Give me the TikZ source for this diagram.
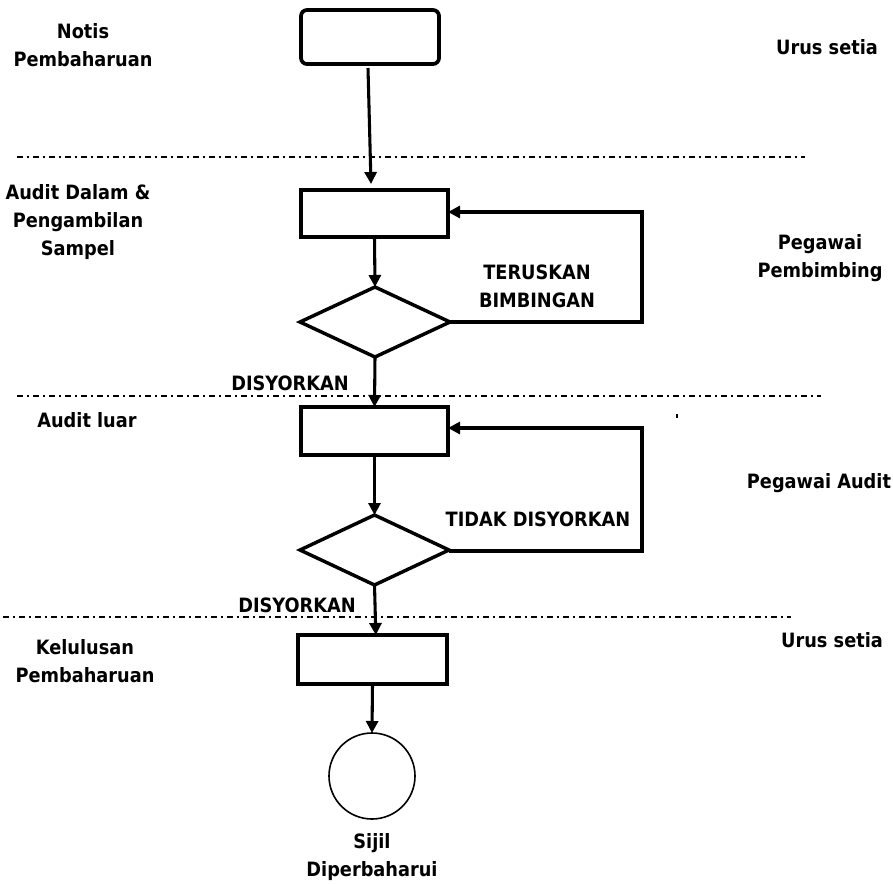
\documentclass[tikz,border=0pt]{standalone}
\usepackage{fontspec}
\setmainfont{DejaVu Sans}
\newfontfamily\labfont{DejaVu Sans Condensed}
\usetikzlibrary{shapes.geometric,arrows.meta}
\begin{document}
\begin{tikzpicture}[x=0.75pt,y=-0.75pt,
  procbox/.style={draw,line width=2.8pt,inner sep=0pt,outer sep=0pt},
  decision/.style={diamond,draw,line width=2.6pt,inner sep=0pt,outer sep=0pt},
  endcircle/.style={circle,draw,line width=1.2pt,inner sep=0pt,outer sep=0pt,minimum size=64.5pt},
  conn/.style={line width=2.3pt,-{Triangle[width=9pt,length=9pt]}},
  lane/.style={line width=1.2pt,dash pattern=on 4.5pt off 3pt on 1.5pt off 3pt},
  lab/.style={font=\labfont\bfseries\fontsize{14.8}{21}\selectfont,align=center,inner sep=0pt}]
\useasboundingbox (0,0) rectangle (893,883);

% lanes
\coordinate (l1a) at (17,157); \coordinate (l1b) at (805,157);
\coordinate (l2a) at (17,396); \coordinate (l2b) at (821,396);
\coordinate (l3a) at (3,617);  \coordinate (l3b) at (791,617);
\draw[lane] (l1a) -- (l1b);
\draw[lane] (l2a) -- (l2b);
\draw[lane] (l3a) -- (l3b);

% shapes
\node[procbox,rounded corners=4.5pt,minimum width=103.5pt,minimum height=40.5pt] (b1) at (370,37) {};
\node[procbox,minimum width=110.25pt,minimum height=35.25pt] (b2) at (374.5,213.5) {};
\node[decision,minimum width=112.5pt,minimum height=52.5pt] (d1) at (375,322) {};
\node[procbox,minimum width=110.25pt,minimum height=36pt] (b3) at (374.5,431) {};
\node[decision,minimum width=111.75pt,minimum height=52.5pt] (d2) at (374.5,550) {};
\node[procbox,minimum width=111.75pt,minimum height=36.75pt] (b4) at (372.5,659.5) {};
\node[endcircle] (c1) at (372,776) {};

% connectors
\coordinate (a1s) at (368,68); \coordinate (a1e) at (371,184);
\draw[conn] (a1s) -- (a1e);
\draw[conn] (b2.south) -- (d1.north);
\draw[conn] (d1.south) -- (b3.north);
\draw[conn] (b3.south) -- (d2.north);
\draw[conn] (d2.south) -- ([xshift=2.5pt]b4.north);
\draw[conn] (b4.south) -- (c1.north);
\coordinate (f1) at (642,322); \coordinate (f2) at (642,212);
\draw[conn] (d1.east) -- (f1) -- (f2) -- (b2.east |- f2);
\coordinate (g1) at (642,551); \coordinate (g2) at (642,428);
\draw[conn] (d2.east |- g1) -- (g1) -- (g2) -- (b3.east |- g2);

% stray mark
\coordinate (m1) at (677,414); \coordinate (m2) at (677,418);
\draw[line width=0.8pt] (m1) -- (m2);

% labels left
\node[lab] (t1) at (83,45) {Notis\\Pembaharuan};
\node[lab] (t2) at (78,222) {Audit Dalam \&\\Pengambilan\\Sampel};
\node[lab] (t3) at (87,420) {Audit luar};
\node[lab] (t4) at (85,661) {Kelulusan\\Pembaharuan};
% labels right
\node[lab] (r1) at (827,47) {Urus setia};
\node[lab] (r2) at (820,258) {Pegawai\\Pembimbing};
\node[lab] (r3) at (819,483) {Pegawai Audit};
\node[lab] (r4) at (832,640) {Urus setia};
% connector labels
\node[lab] (k1) at (537,286) {TERUSKAN\\BIMBINGAN};
\node[lab] (k2) at (538,519) {TIDAK DISYORKAN};
\node[lab] (k3) at (290,383) {DISYORKAN};
\node[lab] (k4) at (297,605) {DISYORKAN};
\node[lab] (s1) at (372,857) {Sijil\\Diperbaharui};
\end{tikzpicture}
\end{document}
